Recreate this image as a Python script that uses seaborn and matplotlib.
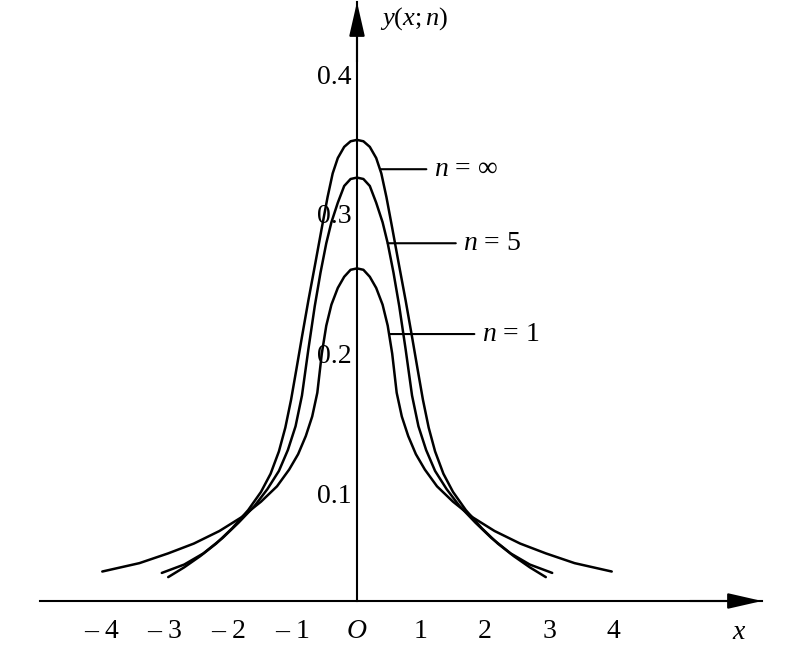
import numpy as np
import pandas as pd
import matplotlib
matplotlib.use("Agg")
import matplotlib.pyplot as plt
import seaborn as sns

sns.set_theme(style="white", rc={"axes.edgecolor": "black", "xtick.color": "black",
                                 "ytick.color": "black", "text.color": "black"})
plt.rcParams['font.family'] = ['Liberation Serif', 'DejaVu Serif']
plt.rcParams['mathtext.fontset'] = 'custom'
plt.rcParams['mathtext.it'] = 'Liberation Serif:italic'
plt.rcParams['mathtext.rm'] = 'Liberation Serif'

# right halves of the curves (x >= 0), mirrored below
x_inf = [0, 0.1, 0.2, 0.3, 0.38, 0.46, 0.55, 0.65, 0.76, 0.86, 0.95, 1.03, 1.12,
         1.22, 1.35, 1.5, 1.7, 1.95, 2.2, 2.45, 2.7, 2.95]
y_inf = [0.353, 0.352, 0.348, 0.340, 0.329, 0.312, 0.290, 0.265, 0.238, 0.212, 0.188,
         0.167, 0.147, 0.130, 0.114, 0.101, 0.088, 0.075, 0.064, 0.055, 0.047, 0.040]
x_5 = [0, 0.1, 0.2, 0.3, 0.4, 0.48, 0.57, 0.66, 0.76, 0.86, 0.96, 1.08, 1.22,
       1.4, 1.6, 1.85, 2.1, 2.4, 2.7, 3.05]
y_5 = [0.326, 0.325, 0.320, 0.308, 0.294, 0.279, 0.258, 0.234, 0.203, 0.170, 0.148,
       0.131, 0.116, 0.103, 0.091, 0.079, 0.068, 0.057, 0.049, 0.043]
x_1 = [0, 0.1, 0.2, 0.3, 0.4, 0.48, 0.55, 0.62, 0.7, 0.8, 0.92, 1.06, 1.25,
       1.5, 1.8, 2.15, 2.55, 2.95, 3.4, 3.98]
y_1 = [0.261, 0.260, 0.255, 0.247, 0.235, 0.220, 0.200, 0.172, 0.155, 0.141, 0.128,
       0.117, 0.105, 0.094, 0.083, 0.073, 0.064, 0.057, 0.050, 0.044]

x_ticks = [-4, -3, -2, -1, 0, 1, 2, 3, 4]
x_ticklabels = ["\u2013 4", "\u2013 3", "\u2013 2", "\u2013 1", "$O$", "1", "2", "3", "4"]
y_ticks = [0.1, 0.2, 0.3, 0.4]
y_ticklabels = ["0.1", "0.2", "0.3", "0.4"]


def both_sides(xs, ys, name):
    # the density is even in x
    xx = [-v for v in xs[:0:-1]] + list(xs)
    yy = list(ys[:0:-1]) + list(ys)
    return pd.DataFrame({"x": xx, "y": yy, "n": name})


df = pd.concat([both_sides(x_inf, y_inf, "inf"),
                both_sides(x_5, y_5, "5"),
                both_sides(x_1, y_1, "1")], ignore_index=True)

fig = plt.figure(figsize=(7.85, 6.65), dpi=100)
ax = fig.add_axes([40/785, 64/665, 722/785, 599/665])
sns.lineplot(data=df, x="x", y="y", units="n", estimator=None, sort=False,
             color="black", lw=1.8, ax=ax)
ax.set(xlabel=None, ylabel=None, xlim=(-317/64, 405/64), ylim=(0.0229, 0.4517))

ax.spines['left'].set_position(('data', 0))
ax.spines['right'].set_visible(False)
ax.spines['top'].set_visible(False)
ax.spines['left'].set_linewidth(1.5)
ax.spines['bottom'].set_linewidth(1.5)

ax.set_xticks(x_ticks)
ax.set_xticklabels(x_ticklabels)
ax.set_yticks(y_ticks)
ax.set_yticklabels(y_ticklabels)
ax.tick_params(axis='x', direction='in', length=4, width=1.2, pad=13, labelsize=20)
ax.tick_params(axis='y', direction='in', length=8, width=1.2, pad=4, labelsize=20)

arrow = dict(arrowstyle='-|>,head_length=1.05,head_width=0.24', mutation_scale=20,
             color='black', lw=1.5, shrinkA=0, shrinkB=0)
ax.annotate("", xy=(1.0, 0), xytext=(0.9, 0), xycoords='axes fraction', arrowprops=arrow)
ax.annotate("", xy=(0, 1.0), xytext=(0, 0.9), xycoords=ax.get_xaxis_transform(), arrowprops=arrow)

ax.text(0.36, 0.973, "$y(x;n)$", transform=ax.get_xaxis_transform(), fontsize=19, va='center')
ax.text(5.98, -0.052, "$x$", transform=ax.get_xaxis_transform(), fontsize=20, ha='center', va='center')

lead = dict(arrowstyle='-', color='black', lw=1.5, shrinkA=3, shrinkB=0)
ax.annotate("$n$ = \u221e", xy=(0.36, 0.332), xytext=(1.20, 0.332), fontsize=20, va='center', arrowprops=lead)
ax.annotate("$n$ = 5", xy=(0.48, 0.279), xytext=(1.66, 0.279), fontsize=20, va='center', arrowprops=lead)
ax.annotate("$n$ = 1", xy=(0.52, 0.214), xytext=(1.95, 0.214), fontsize=20, va='center', arrowprops=lead)

fig.savefig("out.png", dpi=100)
